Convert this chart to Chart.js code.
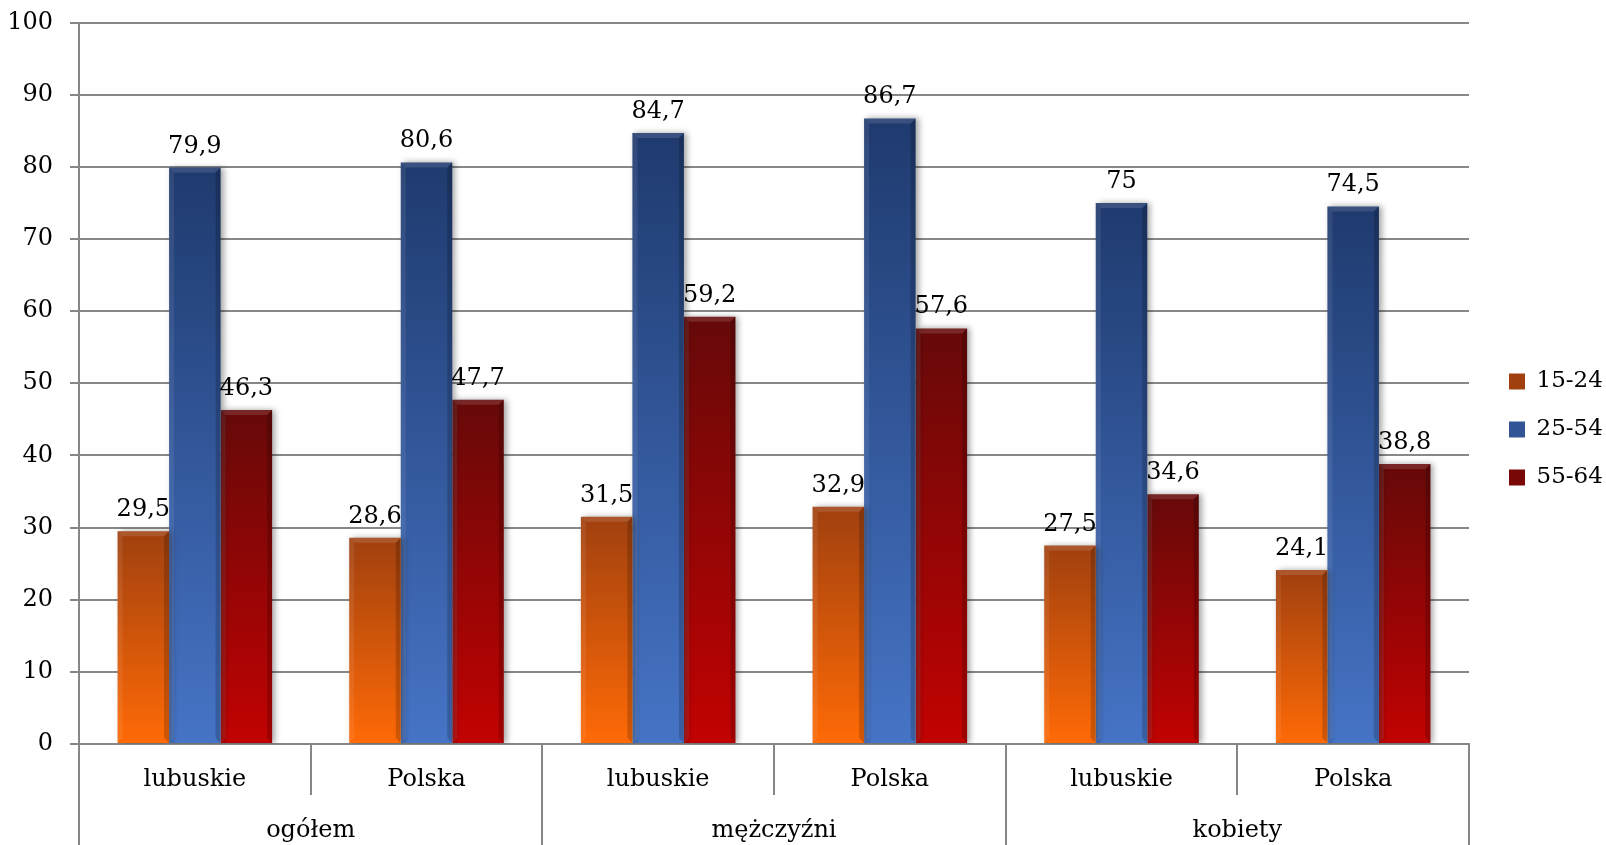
<!DOCTYPE html>
<html>
<head>
<meta charset="utf-8">
<script src="https://cdn.jsdelivr.net/npm/chart.js@4"></script>
<style>
  html, body { margin: 0; padding: 0; background: #fff; }
  #wrap { width: 1606px; height: 845px; }
</style>
</head>
<body>
<div id="wrap"><canvas id="employmentChart" width="1606" height="845"></canvas></div>
<script>
/****************Data****************/
const subLabels = ["lubuskie", "Polska", "lubuskie", "Polska", "lubuskie", "Polska"];
const groupLabels = ["ogółem", "mężczyźni", "kobiety"];
const seriesNames = ["15-24", "25-54", "55-64"];
const age1524 = [29.5, 28.6, 31.5, 32.9, 27.5, 24.1];
const age2554 = [79.9, 80.6, 84.7, 86.7, 75, 74.5];
const age5564 = [46.3, 47.7, 59.2, 57.6, 34.6, 38.8];
const yTicks = [0, 10, 20, 30, 40, 50, 60, 70, 80, 90, 100];

const FONT = "DejaVu Serif";
const FSIZE = 24;
const GRID = "#878787";

// top (dark) -> bottom (bright) colours for each series
const barColors = [
  { top: "#a0400f", bottom: "#ff6a06", solid: "#e85d0c" },
  { top: "#1f3a6e", bottom: "#4674c6", solid: "#3b66b4" },
  { top: "#660909", bottom: "#c20202", solid: "#a00606" },
];

function barGradient(idx) {
  return function (context) {
    const c = barColors[idx];
    const chart = context.chart;
    if (context.type !== "data" || !chart.chartArea) return c.solid;
    const y = chart.scales.y;
    const top = y.getPixelForValue(context.raw);
    const base = y.getPixelForValue(0);
    const g = chart.ctx.createLinearGradient(0, top, 0, base);
    g.addColorStop(0, c.top);
    g.addColorStop(1, c.bottom);
    return g;
  };
}

/****************Plugins****************/
// soft shadow to the right of the bars
const barShadow = {
  id: "barShadow",
  beforeDatasetsDraw(chart) {
    const ctx = chart.ctx;
    ctx.save();
    ctx.shadowColor = "rgba(0,0,0,0.35)";
    ctx.shadowBlur = 6;
    ctx.shadowOffsetX = 3;
    ctx.shadowOffsetY = 0;
  },
  afterDatasetsDraw(chart) {
    chart.ctx.restore();
  },
};

// bevel edges + value labels above each bar
const barLabels = {
  id: "barLabels",
  afterDatasetsDraw(chart) {
    const ctx = chart.ctx;
    ctx.save();
    chart.data.datasets.forEach((ds, i) => {
      const meta = chart.getDatasetMeta(i);
      meta.data.forEach((bar, j) => {
        const left = bar.x - bar.width / 2;
        const right = bar.x + bar.width / 2;
        const top = bar.y;
        const base = bar.base;
        const b = 5;
        // top bevel (lighter)
        ctx.fillStyle = "rgba(255,255,255,0.12)";
        ctx.beginPath();
        ctx.moveTo(left, top);
        ctx.lineTo(right, top);
        ctx.lineTo(right - b, top + b);
        ctx.lineTo(left + b, top + b);
        ctx.closePath();
        ctx.fill();
        // right bevel (darker)
        ctx.fillStyle = "rgba(0,0,0,0.18)";
        ctx.beginPath();
        ctx.moveTo(right, top);
        ctx.lineTo(right, base);
        ctx.lineTo(right - b, base - b);
        ctx.lineTo(right - b, top + b);
        ctx.closePath();
        ctx.fill();
        // left bevel (slight highlight)
        ctx.fillStyle = "rgba(255,255,255,0.08)";
        ctx.beginPath();
        ctx.moveTo(left, top);
        ctx.lineTo(left + b, top + b);
        ctx.lineTo(left + b, base - b);
        ctx.lineTo(left, base);
        ctx.closePath();
        ctx.fill();

        const text = String(ds.data[j]).replace(".", ",");
        ctx.fillStyle = "#000";
        ctx.font = FSIZE + "px '" + FONT + "'";
        ctx.textAlign = "center";
        ctx.textBaseline = "alphabetic";
        ctx.fillText(text, bar.x, top - 15);
      });
    });
    ctx.restore();
  },
};

// fixed legend width so the plot ends where it should, then nudge the legend
const legendPlace = {
  id: "legendPlace",
  beforeInit(chart) {
    const origFit = chart.legend.fit;
    chart.legend.fit = function () {
      origFit.call(this);
      this.width = 137;
    };
  },
  afterLayout(chart) {
    const lg = chart.legend;
    lg.left += 15;
    lg.right += 15;
    lg.top += 7;
    lg.bottom += 7;
  },
};

/****************Chart****************/
const ctx = document.getElementById("employmentChart").getContext("2d");
new Chart(ctx, {
  type: "bar",
  data: {
    labels: subLabels,
    datasets: [
      { label: seriesNames[0], data: age1524, backgroundColor: barGradient(0) },
      { label: seriesNames[1], data: age2554, backgroundColor: barGradient(1) },
      { label: seriesNames[2], data: age5564, backgroundColor: barGradient(2) },
    ],
  },
  plugins: [legendPlace, barShadow, barLabels],
  options: {
    responsive: false,
    animation: false,
    events: [],
    layout: { padding: { left: 9, top: 0, right: 0, bottom: 0 } },
    datasets: {
      bar: { categoryPercentage: 0.667, barPercentage: 1, borderWidth: 0 },
    },
    plugins: {
      tooltip: { enabled: false },
      legend: {
        position: "right",
        labels: {
          font: { family: FONT, size: 23 },
          color: "#000",
          boxWidth: 16,
          boxHeight: 16,
          padding: 25,
        },
      },
    },
    scales: {
      x: {
        type: "category",
        position: "bottom",
        offset: true,
        afterFit(scale) {
          scale.height = 51;
        },
        grid: {
          offset: true,
          drawOnChartArea: false,
          color: GRID,
          lineWidth: 2,
          tickLength: 51,
        },
        border: { color: GRID, width: 2 },
        ticks: {
          font: { family: FONT, size: FSIZE },
          color: "#000",
          padding: -29.4,
          maxRotation: 0,
          autoSkip: false,
        },
      },
      x2: {
        type: "category",
        position: "bottom",
        labels: groupLabels,
        offset: true,
        afterFit(scale) {
          scale.height = 50;
        },
        grid: {
          offset: true,
          drawOnChartArea: false,
          color: GRID,
          lineWidth: 2,
          tickLength: 60,
        },
        border: { display: false },
        ticks: {
          font: { family: FONT, size: FSIZE },
          color: "#000",
          padding: -38.4,
          maxRotation: 0,
          autoSkip: false,
        },
      },
      y: {
        min: 0,
        max: 100,
        afterBuildTicks(scale) {
          scale.ticks = yTicks.map((v) => ({ value: v }));
        },
        afterFit(scale) {
          scale.width = 70;
          scale.paddingTop = 22.5;
          scale.paddingBottom = 0;
        },
        grid: { color: GRID, lineWidth: 2, tickLength: 9 },
        border: { color: GRID, width: 2 },
        ticks: {
          font: { family: FONT, size: FSIZE },
          color: "#000",
          padding: 17,
        },
      },
    },
  },
});
</script>
</body>
</html>
